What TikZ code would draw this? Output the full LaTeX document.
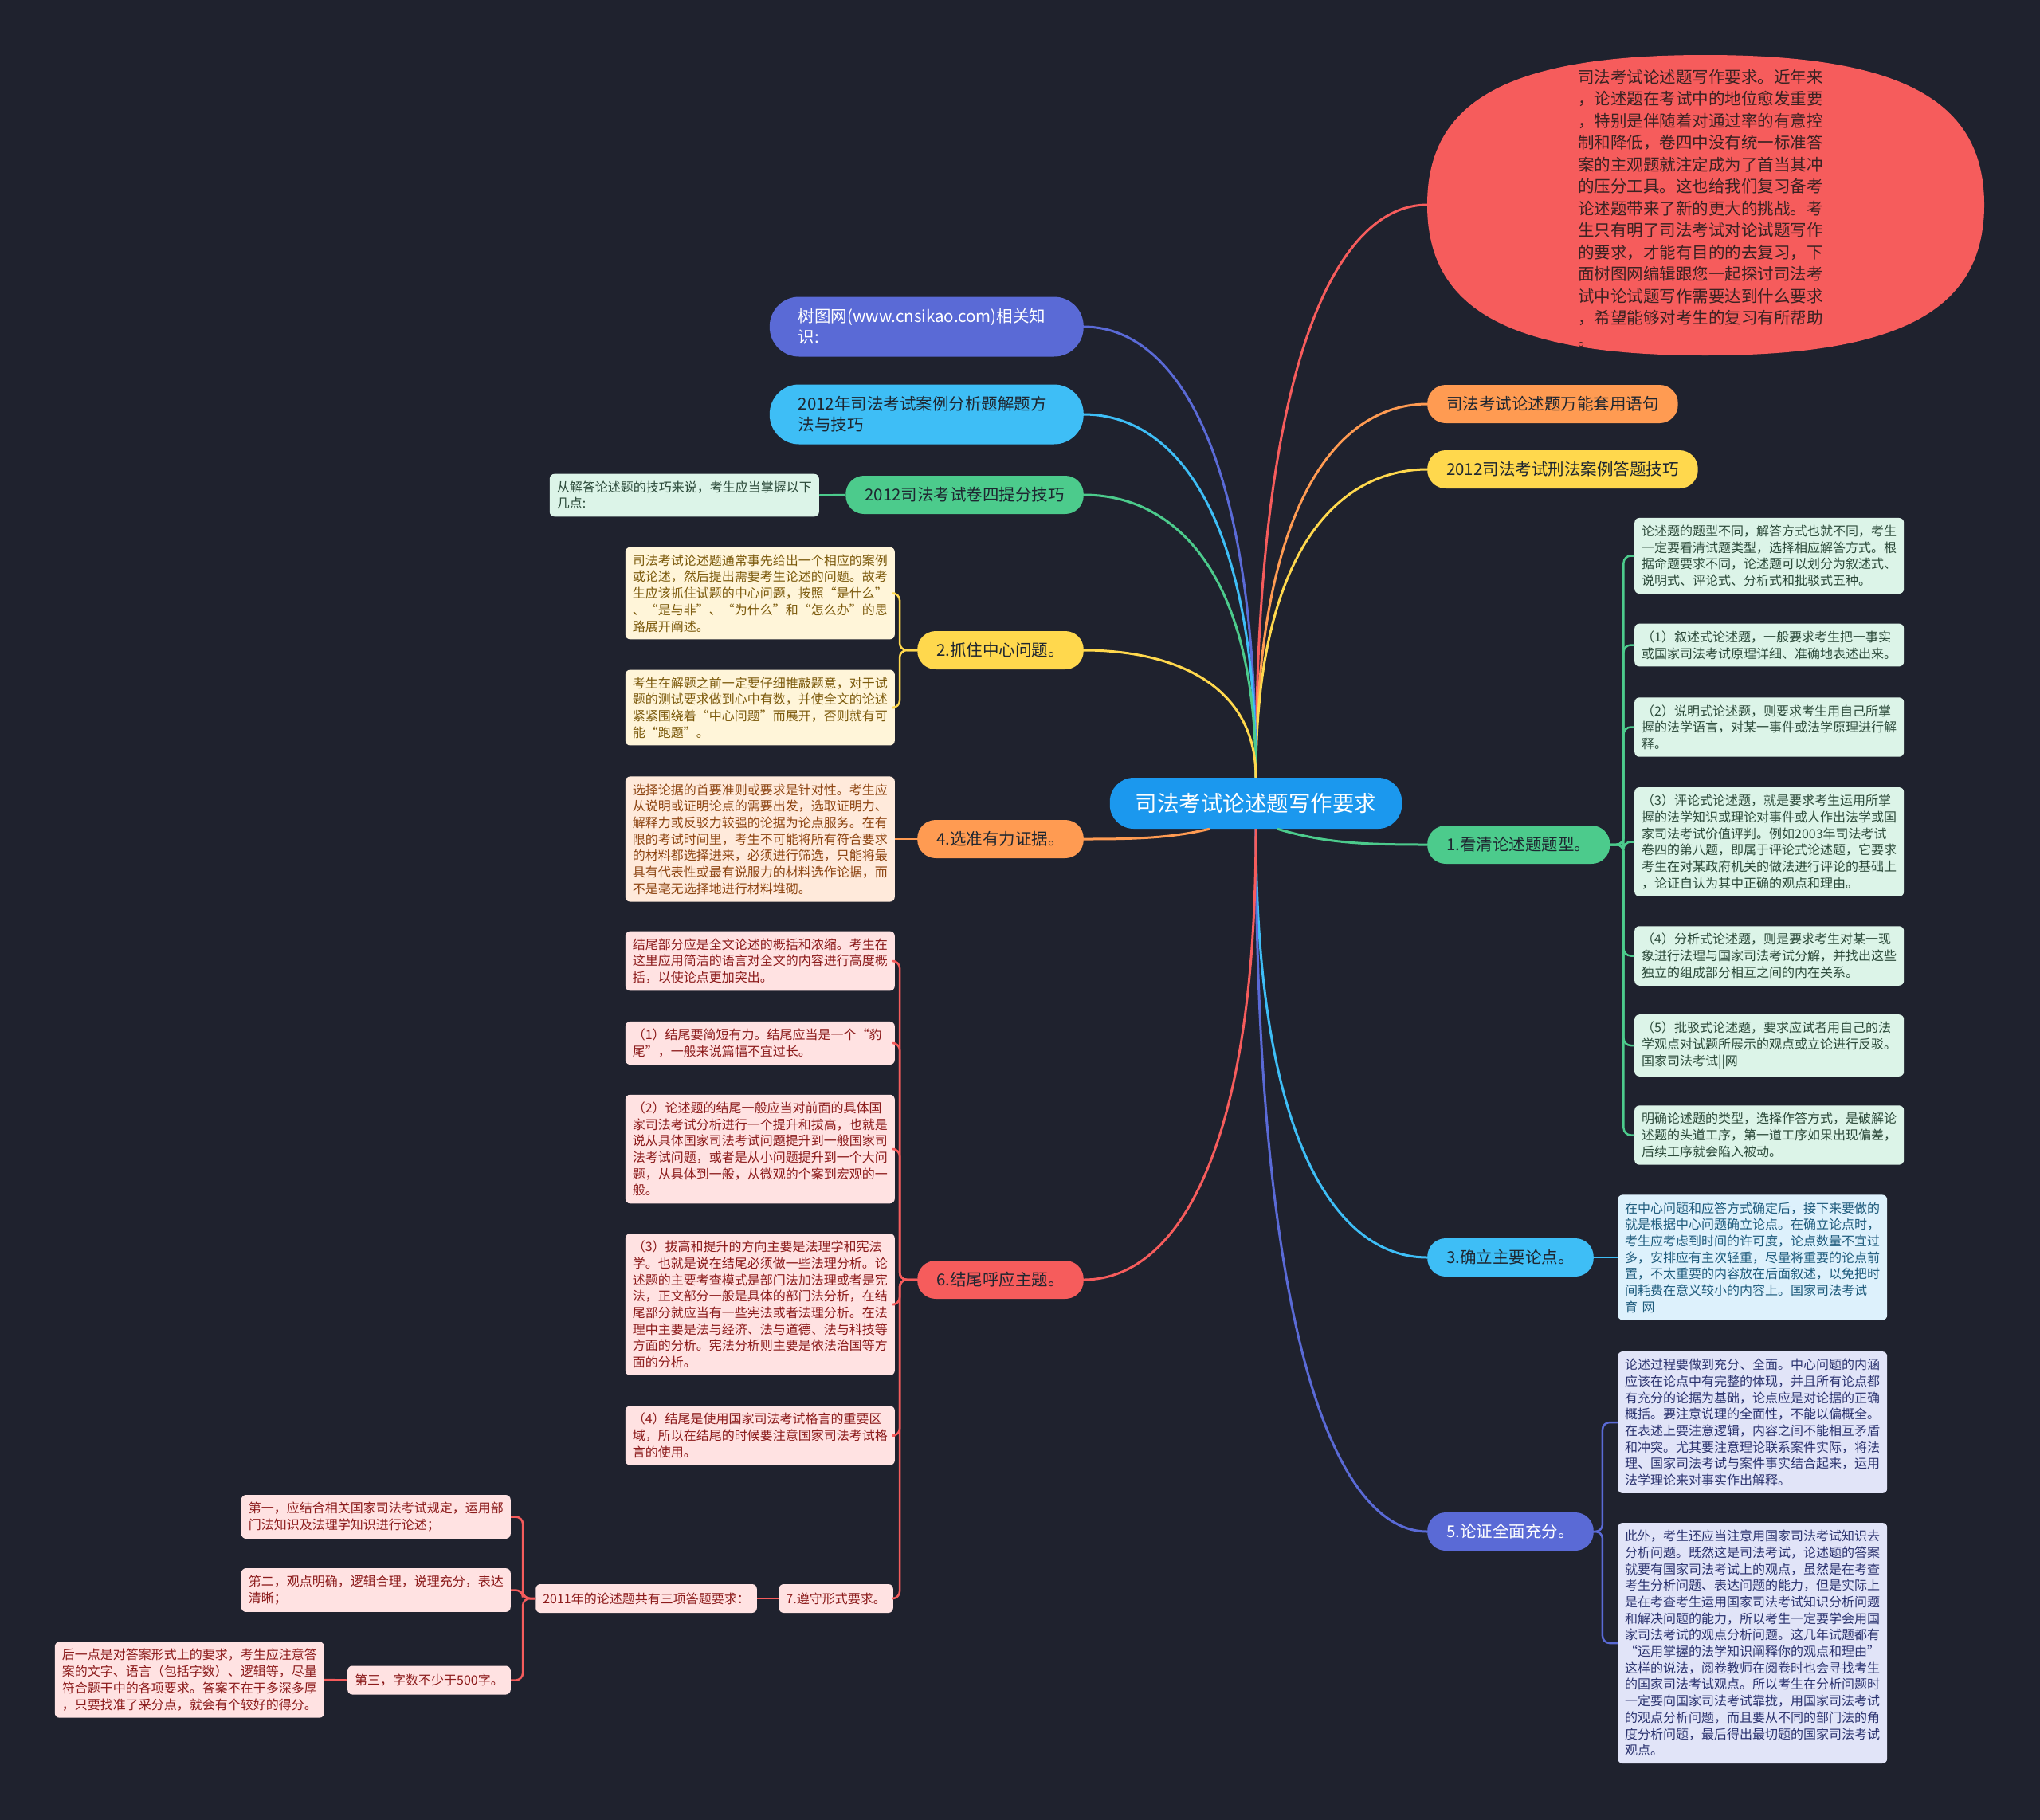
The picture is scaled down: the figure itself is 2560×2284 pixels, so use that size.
\documentclass[tikz,border=0pt]{standalone}
\usepackage{fontspec}
\setmainfont{Noto Sans CJK SC}
\definecolor{bgc}{HTML}{1F222E}
\definecolor{cBlue}{HTML}{1B98EE}
\definecolor{cRed}{HTML}{F65C5C}
\definecolor{cOrange}{HTML}{FF9B52}
\definecolor{cYellow}{HTML}{FFD84D}
\definecolor{cGreen}{HTML}{4CCB8C}
\definecolor{cCyan}{HTML}{3EBEF6}
\definecolor{cIndigo}{HTML}{5A6AD6}
\definecolor{tdark}{HTML}{1E2630}
\definecolor{introT}{HTML}{3A2222}
\definecolor{mintF}{HTML}{DCF4E8}\definecolor{mintT}{HTML}{2C4A3A}
\definecolor{lemonF}{HTML}{FFF5D9}\definecolor{lemonT}{HTML}{7C5A0C}
\definecolor{peachF}{HTML}{FFEADB}\definecolor{peachT}{HTML}{8E4512}
\definecolor{roseF}{HTML}{FFE2E2}\definecolor{roseT}{HTML}{8C1B1B}
\definecolor{skyF}{HTML}{DDF1FC}\definecolor{skyT}{HTML}{1E5B7C}
\definecolor{lilacF}{HTML}{E1E4F8}\definecolor{lilacT}{HTML}{2C3470}
\begin{document}
\begin{tikzpicture}[x=1pt,y=-1pt,
 root/.style={fill=cBlue,rounded corners=30,minimum height=64,inner xsep=32,text=white,font=\fontsize{27.5}{32}\selectfont},
 topic/.style={rounded corners=23,minimum height=48,inner xsep=24,inner ysep=4,text=tdark,font=\fontsize{20.5}{26}\selectfont},
 topicw/.style={topic,rounded corners=37,minimum height=75,text width=322,align=left,inner xsep=36},
 leaf/.style={rounded corners=6,inner xsep=9,inner ysep=9,minimum height=36,align=left,font=\fontsize{16}{20.7}\selectfont},
 para/.style={leaf,text width=320},
 mint/.style={fill=mintF,text=mintT},
 lemon/.style={fill=lemonF,text=lemonT},
 peach/.style={fill=peachF,text=peachT},
 rose/.style={fill=roseF,text=roseT},
 sky/.style={fill=skyF,text=skyT},
 lilac/.style={fill=lilacF,text=lilacT},
 link/.style={line width=3pt},
 sub/.style={line width=2.5pt,rounded corners=9}]
\fill[bgc] (0,0) rectangle (2560,2284);

% centre
\node[root] (root) at (1576,1008) {司法考试论述题写作要求};

% intro blob
\fill[cRed] (2490,257) .. controls (2490,125) and (2385,69) .. (2140,69)
 .. controls (1895,69) and (1791,125) .. (1791,257)
 .. controls (1791,389) and (1895,446) .. (2140,446)
 .. controls (2385,446) and (2490,389) .. (2490,257);
\coordinate (introW) at (1791,257);
\node[anchor=west,inner sep=0,align=left,text=introT,font=\fontsize{20.5}{27.5}\selectfont] (intro) at (1980,261)
 {司法考试论述题写作要求。近年来\\，论述题在考试中的地位愈发重要\\，特别是伴随着对通过率的有意控\\制和降低，卷四中没有统一标准答\\案的主观题就注定成为了首当其冲\\的压分工具。这也给我们复习备考\\论述题带来了新的更大的挑战。考\\生只有明了司法考试对论试题写作\\的要求，才能有目的的去复习，下\\面树图网编辑跟您一起探讨司法考\\试中论试题写作需要达到什么要求\\，希望能够对考生的复习有所帮助\\。};

% right topics
\node[topic,fill=cOrange,anchor=west] (wanneng) at (1791,507) {司法考试论述题万能套用语句};
\node[topic,fill=cYellow,anchor=west] (xingfa) at (1791,589) {2012司法考试刑法案例答题技巧};
\node[topic,fill=cGreen,anchor=west] (kanqing) at (1791,1060) {1.看清论述题题型。};
\node[topic,fill=cCyan,anchor=west] (queli) at (1791,1578) {3.确立主要论点。};
\node[topic,fill=cIndigo,text=white,anchor=west] (lunzheng) at (1791,1922) {5.论证全面充分。};

% left topics
\node[topicw,fill=cIndigo,text=white,anchor=east] (shutu) at (1360,410) {树图网(www.cnsikao.com)相关知\\识:};
\node[topicw,fill=cCyan,anchor=east] (anli) at (1360,520) {2012年司法考试案例分析题解题方\\法与技巧};
\node[topic,fill=cGreen,anchor=east] (juansi) at (1360,621) {2012司法考试卷四提分技巧};
\node[topic,fill=cYellow,anchor=east] (zhuazhu) at (1360,816) {2.抓住中心问题。};
\node[topic,fill=cOrange,anchor=east] (xuanzhun) at (1360,1053) {4.选准有力证据。};
\node[topic,fill=cRed,anchor=east] (jiewei) at (1360,1606) {6.结尾呼应主题。};

% leaves of 1
\node[para,mint,anchor=west] (g1) at (2051,697.5) {论述题的题型不同，解答方式也就不同，考生\\一定要看清试题类型，选择相应解答方式。根\\据命题要求不同，论述题可以划分为叙述式、\\说明式、评论式、分析式和批驳式五种。};
\node[para,mint,anchor=west] (g2) at (2051,809.5) {（1）叙述式论述题，一般要求考生把一事实\\或国家司法考试原理详细、准确地表述出来。};
\node[para,mint,anchor=west] (g3) at (2051,912.5) {（2）说明式论述题，则要求考生用自己所掌\\握的法学语言，对某一事件或法学原理进行解\\释。};
\node[para,mint,anchor=west] (g4) at (2051,1056.5) {（3）评论式论述题，就是要求考生运用所掌\\握的法学知识或理论对事件或人作出法学或国\\家司法考试价值评判。例如2003年司法考试\\卷四的第八题，即属于评论式论述题，它要求\\考生在对某政府机关的做法进行评论的基础上\\，论证自认为其中正确的观点和理由。};
\node[para,mint,anchor=west] (g5) at (2051,1199.5) {（4）分析式论述题，则是要求考生对某一现\\象进行法理与国家司法考试分解，并找出这些\\独立的组成部分相互之间的内在关系。};
\node[para,mint,anchor=west] (g6) at (2051,1312) {（5）批驳式论述题，要求应试者用自己的法\\学观点对试题所展示的观点或立论进行反驳。\\国家司法考试||网};
\node[para,mint,anchor=west] (g7) at (2051,1424.5) {明确论述题的类型，选择作答方式，是破解论\\述题的头道工序，第一道工序如果出现偏差，\\后续工序就会陷入被动。};

% leaf of 3
\node[para,sky,anchor=west] (q1) at (2030,1578) {在中心问题和应答方式确定后，接下来要做的\\就是根据中心问题确立论点。在确立论点时，\\考生应考虑到时间的许可度，论点数量不宜过\\多，安排应有主次轻重，尽量将重要的论点前\\置，不太重要的内容放在后面叙述，以免把时\\间耗费在意义较小的内容上。国家司法考试\\育 网};

% leaves of 5
\node[para,lilac,anchor=west] (l1) at (2030,1785) {论述过程要做到充分、全面。中心问题的内涵\\应该在论点中有完整的体现，并且所有论点都\\有充分的论据为基础，论点应是对论据的正确\\概括。要注意说理的全面性，不能以偏概全。\\在表述上要注意逻辑，内容之间不能相互矛盾\\和冲突。尤其要注意理论联系案件实际，将法\\理、国家司法考试与案件事实结合起来，运用\\法学理论来对事实作出解释。};
\node[para,lilac,anchor=west] (l2) at (2030,2062) {此外，考生还应当注意用国家司法考试知识去\\分析问题。既然这是司法考试，论述题的答案\\就要有国家司法考试上的观点，虽然是在考查\\考生分析问题、表达问题的能力，但是实际上\\是在考查考生运用国家司法考试知识分析问题\\和解决问题的能力，所以考生一定要学会用国\\家司法考试的观点分析问题。这几年试题都有\\“运用掌握的法学知识阐释你的观点和理由”\\这样的说法，阅卷教师在阅卷时也会寻找考生\\的国家司法考试观点。所以考生在分析问题时\\一定要向国家司法考试靠拢，用国家司法考试\\的观点分析问题，而且要从不同的部门法的角\\度分析问题，最后得出最切题的国家司法考试\\观点。};

% left leaves
\node[para,mint,anchor=east] (j1) at (1028,621.5) {从解答论述题的技巧来说，考生应当掌握以下\\几点:};
\node[para,lemon,anchor=east] (z1) at (1123,744.5) {司法考试论述题通常事先给出一个相应的案例\\或论述，然后提出需要考生论述的问题。故考\\生应该抓住试题的中心问题，按照“是什么”\\、“是与非”、“为什么”和“怎么办”的思\\路展开阐述。};
\node[para,lemon,anchor=east] (z2) at (1123,888) {考生在解题之前一定要仔细推敲题意，对于试\\题的测试要求做到心中有数，并使全文的论述\\紧紧围绕着“中心问题”而展开，否则就有可\\能“跑题”。};
\node[para,peach,anchor=east] (x1) at (1123,1053) {选择论据的首要准则或要求是针对性。考生应\\从说明或证明论点的需要出发，选取证明力、\\解释力或反驳力较强的论据为论点服务。在有\\限的考试时间里，考生不可能将所有符合要求\\的材料都选择进来，必须进行筛选，只能将最\\具有代表性或最有说服力的材料选作论据，而\\不是毫无选择地进行材料堆砌。};
\node[para,rose,anchor=east] (e1) at (1123,1206) {结尾部分应是全文论述的概括和浓缩。考生在\\这里应用简洁的语言对全文的内容进行高度概\\括，以使论点更加突出。};
\node[para,rose,anchor=east] (e2) at (1123,1309) {（1）结尾要简短有力。结尾应当是一个“豹\\尾”，一般来说篇幅不宜过长。};
\node[para,rose,anchor=east] (e3) at (1123,1442) {（2）论述题的结尾一般应当对前面的具体国\\家司法考试分析进行一个提升和拔高，也就是\\说从具体国家司法考试问题提升到一般国家司\\法考试问题，或者是从小问题提升到一个大问\\题，从具体到一般，从微观的个案到宏观的一\\般。};
\node[para,rose,anchor=east] (e4) at (1123,1637) {（3）拔高和提升的方向主要是法理学和宪法\\学。也就是说在结尾必须做一些法理分析。论\\述题的主要考查模式是部门法加法理或者是宪\\法，正文部分一般是具体的部门法分析，在结\\尾部分就应当有一些宪法或者法理分析。在法\\理中主要是法与经济、法与道德、法与科技等\\方面的分析。宪法分析则主要是依法治国等方\\面的分析。};
\node[para,rose,anchor=east] (e5) at (1123,1801.5) {（4）结尾是使用国家司法考试格言的重要区\\域，所以在结尾的时候要注意国家司法考试格\\言的使用。};
\node[leaf,rose,anchor=east] (zunshou) at (1121,2006) {7.遵守形式要求。};
\node[leaf,rose,anchor=east] (yaoqiu) at (950,2006) {2011年的论述题共有三项答题要求：};
\node[para,rose,anchor=east] (diyi) at (641,1903.5) {第一，应结合相关国家司法考试规定，运用部\\门法知识及法理学知识进行论述；};
\node[para,rose,anchor=east] (dier) at (641,1995.5) {第二，观点明确，逻辑合理，说理充分，表达\\清晰；};
\node[leaf,rose,anchor=east] (disan) at (641,2108.5) {第三，字数不少于500字。};
\node[para,rose,anchor=east] (houyi) at (407,2108) {后一点是对答案形式上的要求，考生应注意答\\案的文字、语言（包括字数）、逻辑等，尽量\\符合题干中的各项要求。答案不在于多深多厚\\，只要找准了采分点，就会有个较好的得分。};

% branches from the centre
\draw[link,cRed] (root.north) .. controls +(0,-539) and +(-108,0) .. (introW);
\draw[link,cOrange] (root.north) .. controls +(0,-352) and +(-108,0) .. (wanneng.west);
\draw[link,cYellow] (root.north) .. controls +(0,-290) and +(-108,0) .. (xingfa.west);
\draw[link,cIndigo] (root.north) .. controls +(0,-425) and +(108,0) .. (shutu.east);
\draw[link,cCyan] (root.north) .. controls +(0,-342) and +(108,0) .. (anli.east);
\draw[link,cGreen] (root.north) .. controls +(0,-266) and +(108,0) .. (juansi.east);
\draw[link,cYellow] (root.north) .. controls +(0,-120) and +(108,0) .. (zhuazhu.east);
\draw[link,cGreen] (root.-50) .. controls +(60,18) and +(-80,0) .. (kanqing.west);
\draw[link,cOrange] (root.-151) .. controls +(-50,12) and +(60,0) .. (xuanzhun.east);
\draw[link,cCyan] (root.south) .. controls +(0,404) and +(-108,0) .. (queli.west);
\draw[link,cIndigo] (root.south) .. controls +(0,662) and +(-108,0) .. (lunzheng.west);
\draw[link,cRed] (root.south) .. controls +(0,425) and +(108,0) .. (jiewei.east);

% sub connectors
\foreach \n in {g1,g2,g3,g4,g5,g6,g7}
 \draw[sub,cGreen] (kanqing.east) -- ++(17,0) |- (\n.west);
\draw[sub,cCyan] (queli.east) -- (q1.west);
\foreach \n in {l1,l2}
 \draw[sub,cIndigo] (lunzheng.east) -- ++(11,0) |- (\n.west);
\draw[sub,cGreen] (juansi.west) -- (j1.east);
\foreach \n in {z1,z2}
 \draw[sub,cYellow] (zhuazhu.west) -- ++(-22,0) |- (\n.east);
\draw[sub,cOrange] (xuanzhun.west) -- (x1.east);
\foreach \n in {e1,e2,e3,e4,e5,zunshou}
 \draw[sub,cRed] (jiewei.west) -- ++(-22,0) |- (\n.east);
\draw[sub,cRed] (zunshou.west) -- (yaoqiu.east);
\foreach \n in {diyi,dier,disan}
 \draw[sub,cRed] (yaoqiu.west) -- ++(-16,0) |- (\n.east);
\draw[sub,cRed] (disan.west) -- (houyi.east);
\end{tikzpicture}
\end{document}
